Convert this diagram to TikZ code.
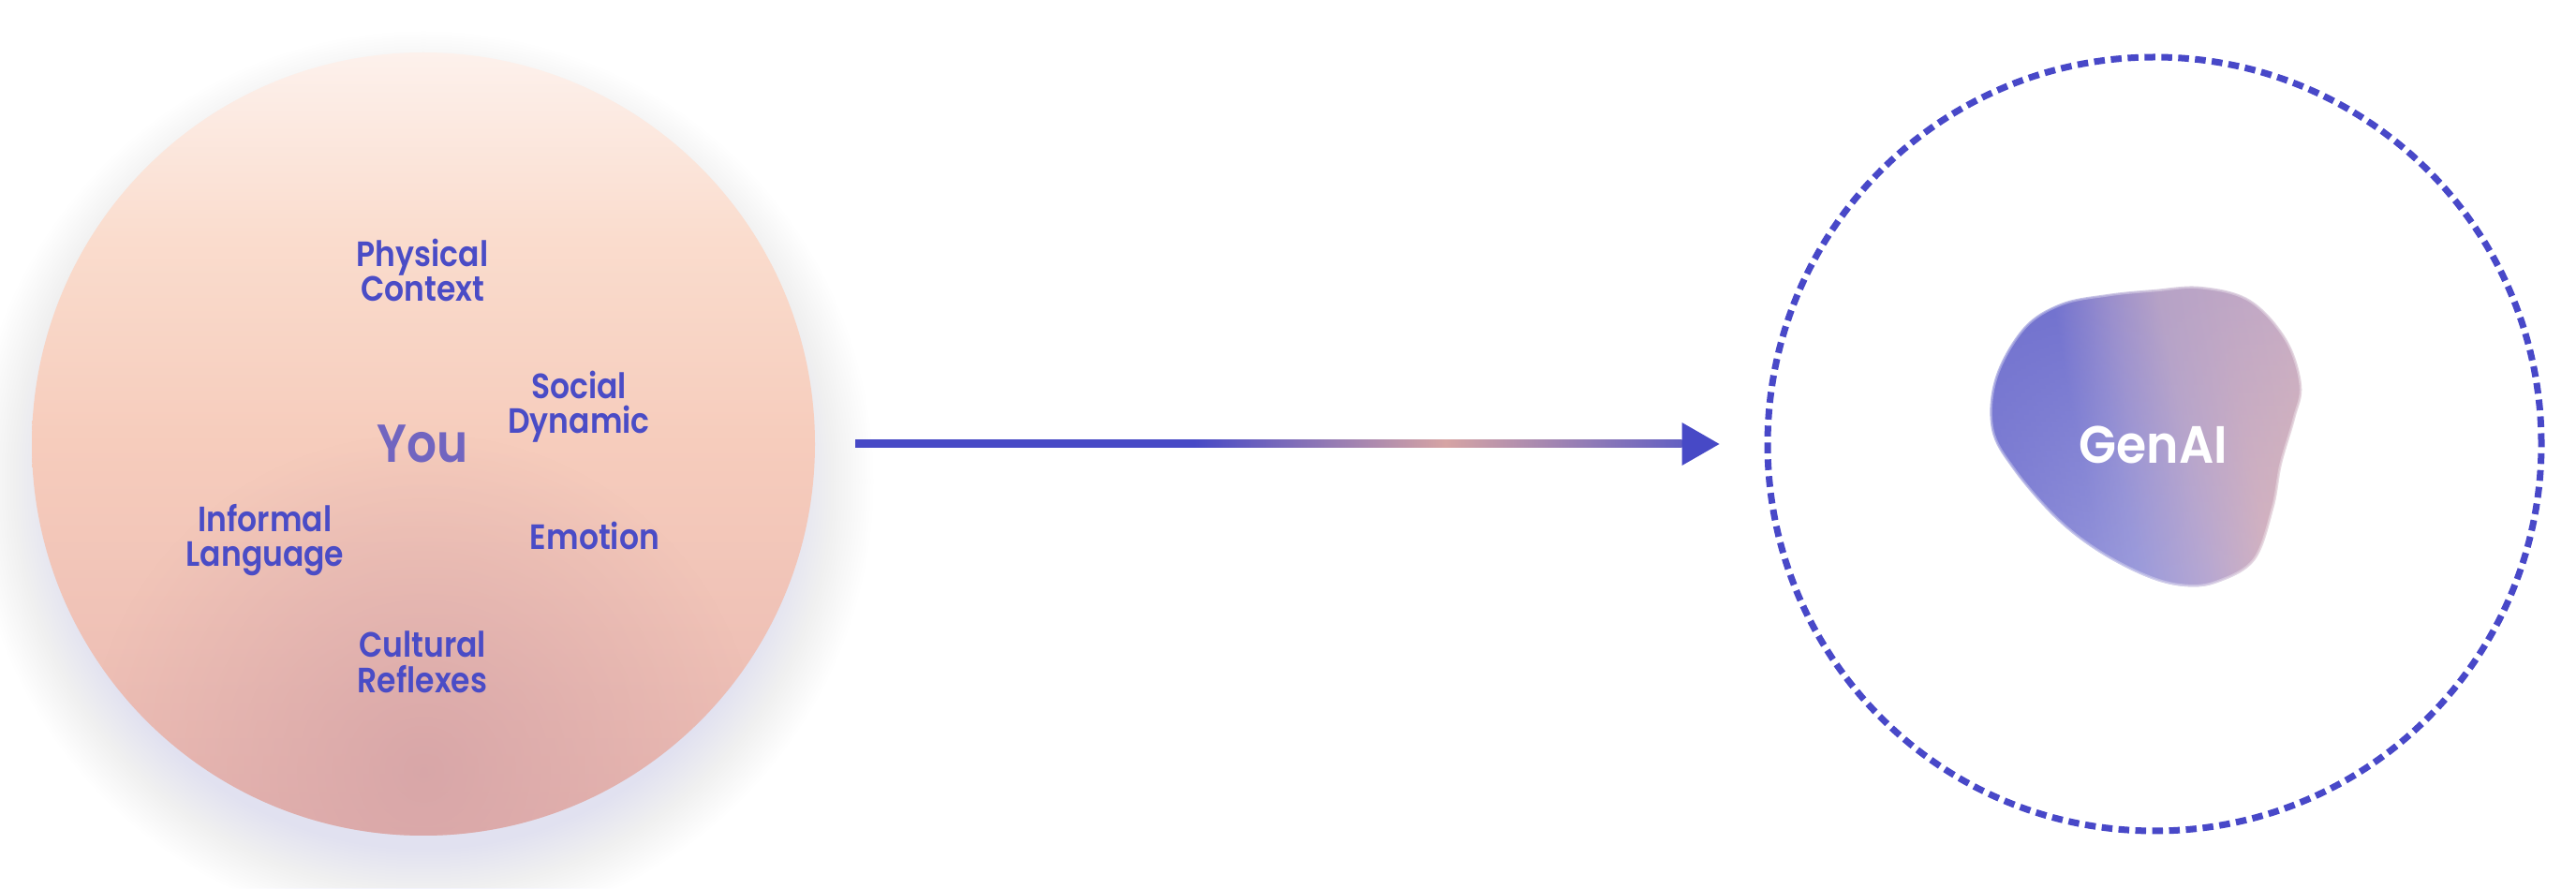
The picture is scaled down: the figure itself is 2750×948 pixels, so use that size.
\documentclass[tikz,border=0pt]{standalone}
\usepackage{fontspec}
\IfFontExistsTF{Poppins SemiBold}
  {\newfontfamily\labfont{Poppins SemiBold}[FakeStretch=0.88]
   \newfontfamily\genfont{Poppins SemiBold}[FakeStretch=0.93]}
  {\newfontfamily\labfontA{Poppins}[FakeStretch=0.88]\def\labfont{\labfontA\bfseries}
   \newfontfamily\genfontA{Poppins}[FakeStretch=0.93]\def\genfont{\genfontA\bfseries}}
\usetikzlibrary{calc,fadings}

\definecolor{txtblue}{HTML}{4A4CC6}
\definecolor{youcol}{HTML}{7165C0}
\definecolor{dashblue}{HTML}{4848C8}
\definecolor{arrblue}{HTML}{4749C6}
\definecolor{arrpink}{HTML}{D6A4A4}
\definecolor{arrend}{HTML}{6460C2}
\definecolor{ytop}{HTML}{FDF1EC}
\definecolor{yup}{HTML}{FADCCD}
\definecolor{ymid}{HTML}{F6CCBC}
\definecolor{ybot}{HTML}{E8B6B0}
\definecolor{mauve}{HTML}{D4A2A6}
\definecolor{glowcol}{HTML}{C8C8F0}
\definecolor{bA}{HTML}{7070CE}
\definecolor{bB}{HTML}{9A8ECC}
\definecolor{bC}{HTML}{B6A2C6}
\definecolor{bD}{HTML}{C4AAC6}
\definecolor{cA}{HTML}{8484D6}
\definecolor{cB}{HTML}{9C9CDC}
\definecolor{cC}{HTML}{B8A8D2}
\definecolor{cD}{HTML}{D6B4C0}
\definecolor{cE}{HTML}{DEBAB8}

\pgfdeclareverticalshading{youfill}{100bp}{color(0bp)=(ybot); color(25bp)=(ybot); color(50bp)=(ymid); color(63bp)=(yup); color(75bp)=(ytop); color(100bp)=(ytop)}
\pgfdeclarehorizontalshading{arrsh}{100bp}{color(0bp)=(arrblue); color(25bp)=(arrblue); color(45.5bp)=(arrblue); color(60.7bp)=(arrpink); color(75bp)=(arrend); color(100bp)=(arrend)}
\pgfdeclarehorizontalshading{blobtop}{100bp}{color(0bp)=(bA); color(25bp)=(bA); color(39bp)=(bA); color(48bp)=(bB); color(56bp)=(bC); color(75bp)=(bD); color(100bp)=(bD)}
\pgfdeclarehorizontalshading{blobbot}{100bp}{color(0bp)=(cA); color(25bp)=(cA); color(45bp)=(cB); color(56bp)=(cC); color(66bp)=(cD); color(75bp)=(cE); color(100bp)=(cE)}
\tikzfading[name=spotfade, inner color=transparent!0, outer color=transparent!100]

\tikzset{
  lab/.style={font=\labfont\fontsize{37.5}{45}\selectfont, text=txtblue, anchor=base, inner sep=0pt},
  youlab/.style={font=\labfont\fontsize{57}{66}\selectfont, text=youcol, anchor=base, inner sep=0pt},
  genlab/.style={font=\genfont\fontsize{56}{66}\selectfont, text=white, anchor=base, inner sep=0pt},
  ring/.style={circle, draw=dashblue, line width=7pt, dash pattern=on 11.5pt off 6.5pt, inner sep=0pt},
}
\def\blobpath{plot[smooth cycle, tension=0.6] coordinates {(2350,642) (2402,628) (2441,586) (2457,537) (2450,501) (2436,453) (2427,405) (2407,350) (2367,326) (2332,322) (2292,332) (2240,359) (2194,395) (2149,447) (2126,490) (2130,545) (2160,598) (2200,624) (2250,634) (2300,639)}}

\begin{document}
\begin{tikzpicture}[x=1pt,y=1pt]
\useasboundingbox (0,0) rectangle (2750,948);
\fill[white] (0,0) rectangle (2750,948);

% soft glow around the left circle (stronger below)
\foreach \i in {1,...,30} \fill[glowcol, opacity=0.014] (452,434) circle ({390+3*\i});

% left circle
\node[circle, minimum size=836pt, inner sep=0pt, shade, shading=youfill] (you) at (452,474) {};
\begin{scope}
  \clip (452,474) circle (418);
  \fill[mauve, opacity=0.8, path fading=spotfade] (452,125) circle (360);
\end{scope}

% labels
\node[lab] (pc1) at (451,663) {Physical};
\node[lab] (pc2) at (451,626) {Context};
\node[lab] (sd1) at (618,522) {Social};
\node[lab] (sd2) at (618,485) {Dynamic};
\node[youlab] (youtxt) at (451,454) {You};
\node[lab] (il1) at (283,380) {Informal};
\node[lab] (il2) at (283,343) {Language};
\node[lab] (emo) at (635,361) {Emotion};
\node[lab] (cr1) at (451,246) {Cultural};
\node[lab] (cr2) at (451,208) {Reflexes};

% dashed ring
\node[ring, minimum size=826pt] (gen) at (2300,474) {};

% arrow
\coordinate (as) at ($(you.east)+(43,0)$);
\coordinate (ae) at ($(gen.west)+(-48,0)$);
\shade[shading=arrsh] ($(as)+(0,4)$) rectangle ($(ae)+(-40,-4)$);
\fill[arrblue] ($(ae)+(-40,23)$) -- (ae) -- ($(ae)+(-40,-23)$) -- cycle;

% blob
\shade[shading=blobtop, shading angle=10] \blobpath;
\shade[shading=blobbot, shading angle=10, path fading=north] \blobpath;
\draw[white, line width=5pt, opacity=0.3] \blobpath;
\draw[white, line width=2pt, opacity=0.3] \blobpath;

\node[genlab] (genai) at (2299,453) {GenAI};
\end{tikzpicture}
\end{document}
